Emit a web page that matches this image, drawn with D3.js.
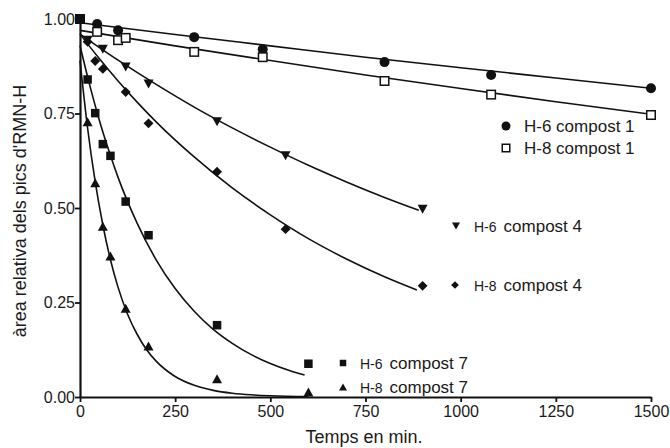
<!DOCTYPE html>
<html>
<head>
<meta charset="utf-8">
<script src="https://cdn.jsdelivr.net/npm/d3@7"></script>
<style>
  html, body { margin: 0; padding: 0; background: #fff; }
  svg { display: block; }
  text { font-family: "Liberation Sans", Arial, sans-serif; fill: #1a1a1a; }
</style>
</head>
<body>
<div id="chart"></div>
<script>
// ---------- data ----------
const xTicks = [0, 250, 500, 750, 1000, 1250, 1500];
const yTicks = [0.00, 0.25, 0.50, 0.75, 1.00];

// measured points [time (min), relative area]
const h6c1Points = [[0,1.0],[45,0.987],[100,0.970],[300,0.952],[480,0.920],[800,0.886],[1080,0.852],[1500,0.817]];
const h8c1Points = [[0,1.0],[45,0.966],[100,0.944],[120,0.950],[300,0.913],[480,0.899],[800,0.836],[1080,0.800],[1500,0.746]];
const h6c4Points = [[0,1.0],[20,0.944],[60,0.920],[120,0.873],[180,0.828],[360,0.728],[540,0.638],[900,0.497]];
const h8c4Points = [[0,1.0],[20,0.940],[40,0.889],[60,0.868],[120,0.807],[180,0.724],[360,0.596],[540,0.444],[900,0.294]];
const h6c7Points = [[0,1.0],[20,0.840],[40,0.751],[60,0.669],[80,0.638],[120,0.517],[180,0.428],[360,0.190],[600,0.088]];
const h8c7Points = [[0,1.0],[20,0.728],[40,0.567],[60,0.452],[80,0.373],[120,0.235],[180,0.135],[360,0.048],[600,0.013]];

// fitted curves [time, value]
const h6c1Fit = [[0,0.990],[250,0.959],[500,0.929],[750,0.899],[1000,0.871],[1250,0.844],[1500,0.817]];
const h8c1Fit = [[0,0.970],[250,0.929],[500,0.890],[750,0.852],[1000,0.816],[1250,0.781],[1500,0.748]];
const h6c4Fit = [[0,0.960],[100,0.891],[200,0.827],[300,0.767],[400,0.712],[500,0.661],[600,0.613],[700,0.569],[800,0.528],[890,0.494]];
const h8c4Fit = [[0,0.960],[50,0.896],[100,0.836],[150,0.780],[200,0.728],[300,0.635],[400,0.553],[500,0.482],[600,0.419],[700,0.365],[800,0.318],[885,0.283]];
const h6c7Fit = [[0,0.930],[25,0.827],[50,0.735],[75,0.654],[100,0.581],[150,0.460],[200,0.363],[250,0.287],[300,0.227],[350,0.179],[400,0.142],[450,0.112],[500,0.0887],[550,0.0701],[590,0.0581]];
const h8c7Fit = [[0,0.890],[20,0.711],[40,0.569],[60,0.455],[80,0.363],[100,0.290],[125,0.219],[150,0.166],[175,0.125],[200,0.0948],[250,0.0541],[300,0.0309],[350,0.0176],[400,0.0101],[450,0.0058],[500,0.0033],[600,0.0011]];

const legendPrefix = ["H-6", "H-8", "H-6", "H-8", "H-6", "H-8"];
const legendSuffix = ["compost 1", "compost 1", "compost 4", "compost 4", "compost 7", "compost 7"];

// ---------- layout ----------
const W = 670, H = 448;
const svg = d3.select("#chart").append("svg").attr("width", W).attr("height", H);

const x = d3.scaleLinear().domain([0, 1500]).range([80, 651]);
const y = d3.scaleLinear().domain([0, 1]).range([397, 19]);

// symbols
function drawMarker(g, kind, cx, cy, s) {
  if (kind === "circle") {
    g.append("circle").attr("cx", cx).attr("cy", cy).attr("r", s * 0.5).attr("fill", "#111");
  } else if (kind === "opensquare") {
    g.append("rect").attr("x", cx - s/2 + 0.75).attr("y", cy - s/2 + 0.75).attr("width", s - 1.5).attr("height", s - 1.5)
      .attr("fill", "#fff").attr("stroke", "#111").attr("stroke-width", 1.5);
  } else if (kind === "square") {
    g.append("rect").attr("x", cx - s/2).attr("y", cy - s/2).attr("width", s).attr("height", s).attr("fill", "#111");
  } else if (kind === "down") {
    const h = s * 0.9;
    g.append("path").attr("d", `M${cx - s/2},${cy - h/2}L${cx + s/2},${cy - h/2}L${cx},${cy + h/2}Z`).attr("fill", "#111");
  } else if (kind === "up") {
    const h = s * 0.9;
    g.append("path").attr("d", `M${cx - s/2},${cy + h/2}L${cx + s/2},${cy + h/2}L${cx},${cy - h/2}Z`).attr("fill", "#111");
  } else if (kind === "diamond") {
    const r = s * 0.55;
    g.append("path").attr("d", `M${cx},${cy - r}L${cx + r},${cy}L${cx},${cy + r}L${cx - r},${cy}Z`).attr("fill", "#111");
  }
}

const line = d3.line().x(d => x(d[0])).y(d => y(d[1])).curve(d3.curveMonotoneX);

const fits = [h6c1Fit, h8c1Fit, h6c4Fit, h8c4Fit, h6c7Fit, h8c7Fit];
const gFit = svg.append("g");
fits.forEach(f => {
  gFit.append("path").attr("d", line(f)).attr("fill", "none").attr("stroke", "#111").attr("stroke-width", 1.6);
});

// axes
const gx = svg.append("g").attr("transform", `translate(0,${y(0)})`)
  .call(d3.axisBottom(x).tickValues(xTicks).tickFormat(d3.format("d")).tickSize(5).tickSizeOuter(0));
const gy = svg.append("g").attr("transform", `translate(${x(0)},0)`)
  .call(d3.axisLeft(y).tickValues(yTicks).tickFormat(d3.format(".2f")).tickSize(5).tickSizeOuter(0));
[gx, gy].forEach(g => {
  g.select(".domain").attr("stroke", "#111").attr("stroke-width", 2.2);
  g.selectAll(".tick line").attr("stroke", "#111").attr("stroke-width", 1.8);
  g.selectAll(".tick text").attr("font-size", 16).attr("fill", "#1a1a1a")
    .attr("font-family", "'Liberation Sans', Arial, sans-serif");
});
gx.selectAll(".tick text").attr("dy", "0.85em").attr("y", 6);
gy.selectAll(".tick text").attr("x", -5).attr("dy", "0.34em");

// points
const pointSets = [
  [h6c1Points, "circle", 10],
  [h8c1Points, "opensquare", 10],
  [h6c4Points, "down", 10],
  [h8c4Points, "diamond", 9],
  [h8c7Points, "up", 10],
  [h6c7Points, "square", 8.5]
];
const gPts = svg.append("g");
pointSets.forEach(([pts, kind, s]) => {
  pts.forEach(p => drawMarker(gPts, kind, x(p[0]), y(p[1]), s));
});

// axis titles
svg.append("text").attr("x", 364).attr("y", 443).attr("text-anchor", "middle")
  .attr("font-size", 18).text("Temps en min.");
svg.append("text").attr("transform", "translate(26,211) rotate(-90)").attr("text-anchor", "middle")
  .attr("font-size", 18).text("àrea relativa dels pics d'RMN-H");

// legend
const legendRows = [
  {kind: "circle", mx: 506, my: 126, s: 9, tx: 524, small: false},
  {kind: "opensquare", mx: 506, my: 148, s: 9, tx: 524, small: false},
  {kind: "down", mx: 456, my: 226, s: 8, tx: 474, small: true},
  {kind: "diamond", mx: 455, my: 285, s: 7, tx: 474, small: true},
  {kind: "square", mx: 343, my: 363, s: 6.5, tx: 360, small: true},
  {kind: "up", mx: 343, my: 387, s: 8, tx: 360, small: true}
];
const gLeg = svg.append("g");
legendRows.forEach((r, i) => {
  drawMarker(gLeg, r.kind, r.mx, r.my, r.s);
  const t = gLeg.append("text").attr("x", r.tx).attr("y", r.my).attr("dy", "0.36em").attr("font-size", 17);
  if (r.small) {
    t.append("tspan").attr("font-size", 14).text(legendPrefix[i]);
    t.append("tspan").attr("dx", 7).text(legendSuffix[i]);
  } else {
    t.text(legendPrefix[i] + " " + legendSuffix[i]);
  }
});
</script>
</body>
</html>
